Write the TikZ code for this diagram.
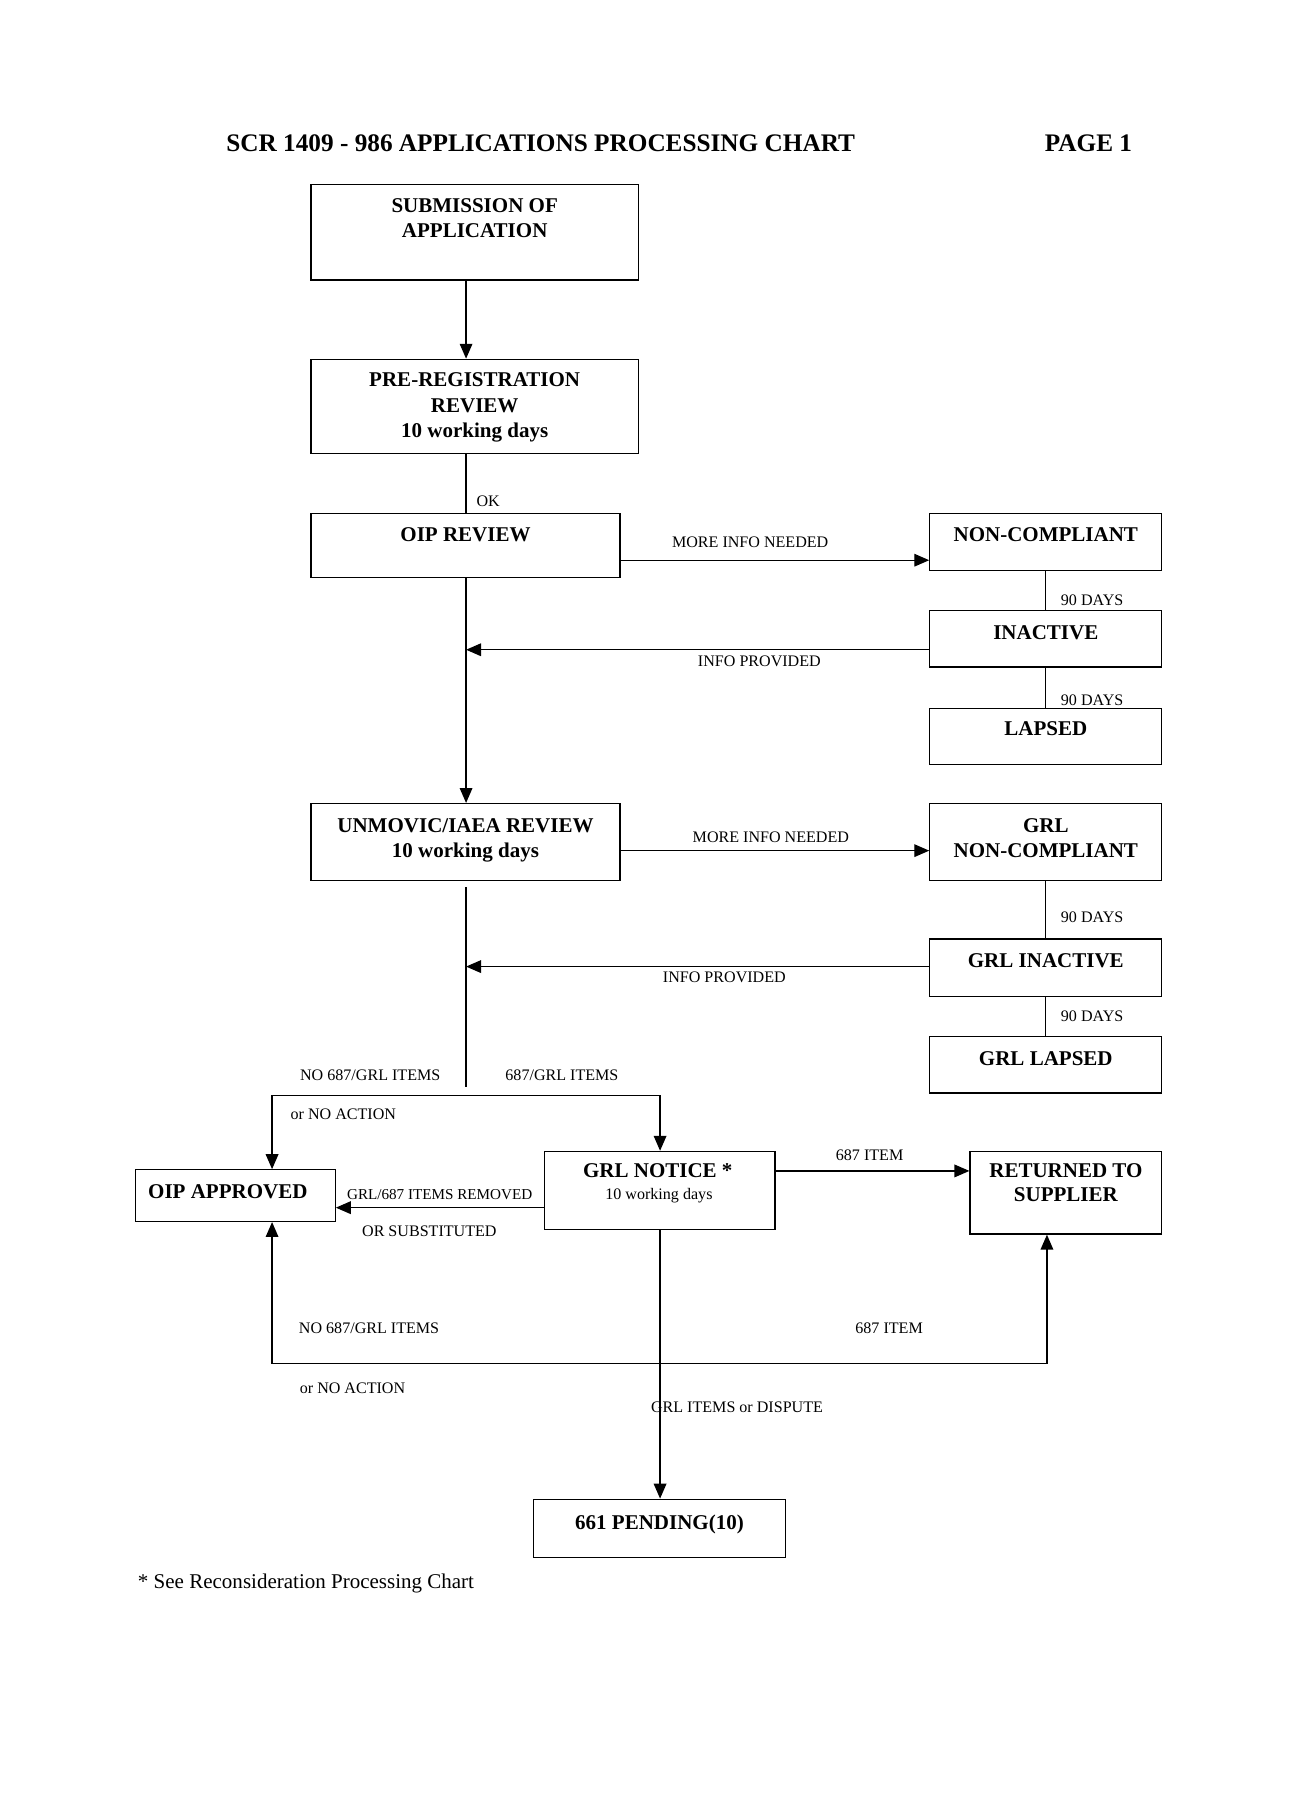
\documentclass[tikz,border=0pt]{standalone}
\usepackage{fontspec}
\setmainfont{Liberation Serif}
\usetikzlibrary{arrows.meta}
\begin{document}
\begin{tikzpicture}[x=1pt,y=-1pt,
  box/.style={draw=black,line width=1.1pt,inner sep=0pt},
  bt/.style={font=\bfseries\fontsize{18.3}{22}\selectfont,anchor=base,inner sep=0pt},
  lt/.style={font=\fontsize{14}{16}\selectfont,anchor=base,inner sep=0pt},
  ln/.style={line width=1.1pt},
  arr/.style={line width=1.1pt,-{Triangle[length=13pt,width=11pt]}}]
\useasboundingbox (0,0) rectangle (1123,1568);
% helper to draw a box by corners
\def\bx#1#2#3#4#5{\node[box,minimum width={#4-#2},minimum height={#5-#3}] (#1) at ({(#2+#4)/2},{(#3+#5)/2}) {};}
% title
\node[font=\bfseries\fontsize{22}{26}\selectfont,anchor=base west,inner sep=0pt] (title) at (197,132) {SCR 1409 - 986 APPLICATIONS PROCESSING CHART};
\node[font=\bfseries\fontsize{22}{26}\selectfont,anchor=base west,inner sep=0pt] (page) at (910,132) {PAGE 1};
% boxes
\bx{sub}{271}{161}{556}{244}
\bx{pre}{271}{313}{556}{395}
\bx{oip}{271}{447}{540}{503}
\bx{nonc}{810}{447}{1012}{497}
\bx{inac}{810}{532}{1012}{581}
\bx{laps}{810}{617}{1012}{666}
\bx{unm}{271}{700}{540}{767}
\bx{gnc}{810}{700}{1012}{767}
\bx{gina}{810}{818}{1012}{868}
\bx{glap}{810}{903}{1012}{952}
\bx{appr}{118}{1019}{292}{1064}
\bx{notice}{474}{1003}{675}{1071}
\bx{ret}{845}{1003}{1012}{1075}
\bx{pend}{465}{1306}{684}{1357}
% box texts
\node[bt] (subA) at (413.5,185) {SUBMISSION OF};
\node[bt] (subB) at (413.5,207) {APPLICATION};
\node[bt] (preA) at (413.5,337) {PRE-REGISTRATION};
\node[bt] (preB) at (413.5,359) {REVIEW};
\node[bt] (preC) at (413.5,381) {10 working days};
\node[bt] (oipA) at (405.5,472) {OIP REVIEW};
\node[bt] (noncA) at (911,472) {NON-COMPLIANT};
\node[bt] (inacA) at (911,557) {INACTIVE};
\node[bt] (lapsA) at (911,641) {LAPSED};
\node[bt] (unmA) at (405.5,725) {UNMOVIC/IAEA REVIEW};
\node[bt] (unmB) at (405.5,747) {10 working days};
\node[bt] (gncA) at (911,725) {GRL};
\node[bt] (gncB) at (911,747) {NON-COMPLIANT};
\node[bt] (ginaA) at (911,843) {GRL INACTIVE};
\node[bt] (glapA) at (911,928) {GRL LAPSED};
\node[bt] (apprA) at (198.5,1044) {OIP APPROVED};
\node[bt] (noticeA) at (573,1026) {GRL NOTICE *};
\node[lt] (noticeB) at (574,1045) {10 working days};
\node[bt] (retA) at (928.5,1026) {RETURNED TO};
\node[bt] (retB) at (928.5,1047) {SUPPLIER};
\node[bt] (pendA) at (574.5,1332) {661 PENDING(10)};
% helper coordinates
\coordinate (mx) at (406,0);
\coordinate (r1) at (0,488);
\coordinate (r2) at (0,741);
\coordinate (ip1) at (406,566);
\coordinate (ip2) at (406,842);
\coordinate (v1) at (406,773);
\coordinate (v2) at (406,947);
\coordinate (h1) at (237,954);
\coordinate (h2) at (575,954);
\coordinate (r3) at (0,1020);
\coordinate (r4) at (0,1052);
\coordinate (b1) at (237,1188);
\coordinate (b2) at (912,1188);
% connectors
\draw[arr] (sub.south -| mx) -- (pre.north -| mx);
\draw[ln] (pre.south -| mx) -- (oip.north -| mx);
\draw[arr] (oip.south -| mx) -- (unm.north -| mx);
\draw[arr] (oip.east |- r1) -- (nonc.west |- r1);
\draw[ln] (nonc.south) -- (inac.north);
\draw[arr] (inac.west |- ip1) -- (ip1);
\draw[ln] (inac.south) -- (laps.north);
\draw[arr] (unm.east |- r2) -- (gnc.west |- r2);
\draw[ln] (gnc.south) -- (gina.north);
\draw[arr] (gina.west |- ip2) -- (ip2);
\draw[ln] (gina.south) -- (glap.north);
\draw[ln] (v1) -- (v2);
\draw[arr] (h1) -- (appr.north -| h1);
\draw[arr] (h1) -- (h2) -- (notice.north -| h2);
\draw[arr] (notice.east |- r3) -- (ret.west |- r3);
\draw[arr] (notice.west |- r4) -- (appr.east |- r4);
\draw[arr] (b1) -- (appr.south -| b1);
\draw[arr] (b1) -- (b2) -- (ret.south -| b2);
\draw[arr] (notice.south -| h2) -- (pend.north -| h2);
% labels
\node[lt,anchor=base west] (ok) at (415,441.5) {OK};
\node[lt] (mi1) at (653.5,476.5) {MORE INFO NEEDED};
\node[lt,anchor=base west] (d1) at (924,527.5) {90 DAYS};
\node[lt] (ip1t) at (661.5,580.5) {INFO PROVIDED};
\node[lt,anchor=base west] (d2) at (924,614.5) {90 DAYS};
\node[lt] (mi2) at (671.5,733.5) {MORE INFO NEEDED};
\node[lt,anchor=base west] (d3) at (924,803.5) {90 DAYS};
\node[lt] (ip2t) at (631,855.5) {INFO PROVIDED};
\node[lt,anchor=base west] (d4) at (924,889.5) {90 DAYS};
\node[lt] (no1) at (322.5,941.5) {NO 687/GRL ITEMS};
\node[lt] (yes1) at (489.5,941.5) {687/GRL ITEMS};
\node[lt,anchor=base west] (na1) at (253,975.5) {or NO ACTION};
\node[lt] (it1) at (757.5,1010.5) {687 ITEM};
\node[lt,font=\fontsize{13.2}{15}\selectfont] (rem) at (383,1044.5) {GRL/687 ITEMS REMOVED};
\node[lt] (subst) at (374,1077.5) {OR SUBSTITUTED};
\node[lt] (no2) at (321.5,1161.5) {NO 687/GRL ITEMS};
\node[lt] (it2) at (774.5,1161.5) {687 ITEM};
\node[lt,anchor=base west] (na2) at (261,1213.5) {or NO ACTION};
\node[lt] (disp) at (642,1230.5) {GRL ITEMS or DISPUTE};
\node[font=\fontsize{18.3}{22}\selectfont,anchor=base west,inner sep=0pt] (foot) at (120,1384) {* See Reconsideration Processing Chart};
\end{tikzpicture}
\end{document}
